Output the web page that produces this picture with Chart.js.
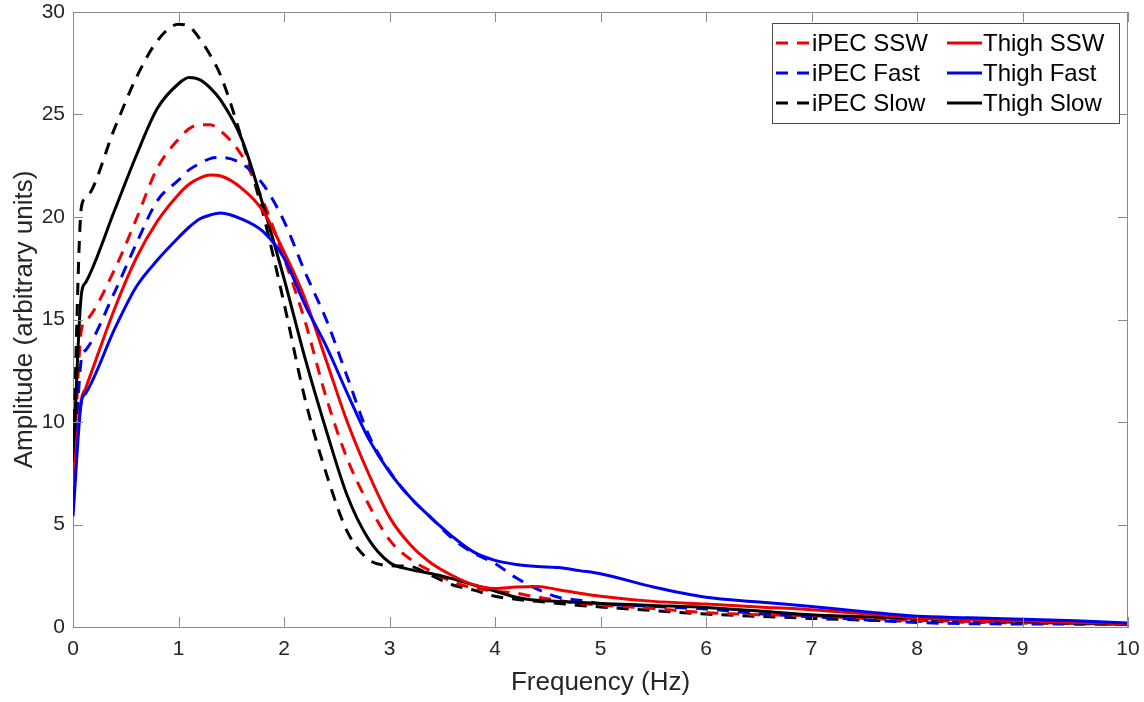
<!DOCTYPE html>
<html>
<head>
<meta charset="utf-8">
<script src="https://cdn.jsdelivr.net/npm/chart.js@4"></script>
<style>
  html, body { margin: 0; padding: 0; background: #fff; }
  #wrap { width: 1144px; height: 702px; }
</style>
</head>
<body>
<div id="wrap"><canvas id="myChart" width="1144" height="702"></canvas></div>
<script>
// frequency samples (Hz)
const freq = [0, 0.08, 0.12, 0.4, 0.6, 0.8, 1.0, 1.1, 1.2, 1.3, 1.4, 1.6, 1.8, 2.0, 2.2, 2.4, 2.6, 2.8, 3.0,
  3.2, 3.4, 3.6, 3.8, 4.0, 4.2, 4.4, 4.6, 4.8, 5.0, 5.5, 6, 6.5, 7, 7.5, 8, 8.5, 9, 9.5, 10];

const ipecSSW  = [7.0, 14.5, 14.9, 17.5, 19.9, 22.4, 23.8, 24.3, 24.5, 24.5, 24.2, 23.0, 20.8, 18.0, 14.9, 11.2, 8.2, 6.0, 4.25,
  3.3, 2.7, 2.2, 1.9, 1.75, 1.65, 1.45, 1.3, 1.15, 1.07, 0.9, 0.7, 0.6, 0.55, 0.42, 0.32, 0.27, 0.22, 0.18, 0.13];
const ipecFast = [6.3, 13.1, 13.5, 16.4, 18.7, 20.8, 21.8, 22.3, 22.6, 22.85, 22.9, 22.6, 21.6, 19.8, 17.3, 15.0, 12.2, 9.4, 7.6,
  6.3, 5.3, 4.3, 3.6, 3.1, 2.4, 1.85, 1.45, 1.3, 1.15, 1.0, 0.88, 0.65, 0.5, 0.35, 0.22, 0.16, 0.15, 0.14, 0.13];
const ipecSlow = [8.0, 20.5, 20.9, 24.4, 26.8, 28.6, 29.4, 29.3, 28.7, 27.9, 26.9, 23.8, 20.2, 15.8, 11.1, 7.5, 4.65, 3.3, 3.0,
  2.95, 2.5, 2.05, 1.8, 1.5, 1.35, 1.25, 1.15, 1.05, 0.98, 0.8, 0.63, 0.52, 0.42, 0.34, 0.28, 0.24, 0.2, 0.17, 0.13];
const thighSSW  = [7.0, 11.1, 11.65, 15.6, 18.0, 19.8, 21.1, 21.6, 21.9, 22.05, 22.0, 21.4, 20.3, 18.3, 16.0, 13.0, 10.0, 7.5, 5.36,
  4.0, 3.1, 2.5, 2.05, 1.88, 1.95, 1.98, 1.82, 1.65, 1.5, 1.25, 1.12, 0.98, 0.84, 0.65, 0.45, 0.36, 0.3, 0.22, 0.16];
const thighFast = [5.4, 11.0, 11.4, 14.6, 16.6, 17.9, 19.0, 19.5, 19.9, 20.1, 20.2, 19.9, 19.3, 18.0, 15.7, 13.7, 11.4, 9.2, 7.55,
  6.3, 5.3, 4.4, 3.65, 3.25, 3.05, 2.95, 2.9, 2.75, 2.6, 1.95, 1.45, 1.22, 1.0, 0.75, 0.52, 0.45, 0.38, 0.3, 0.2];
const thighSlow = [8.0, 16.25, 16.8, 20.4, 23.0, 25.3, 26.5, 26.8, 26.7, 26.3, 25.7, 23.8, 20.6, 17.0, 13.1, 9.6, 6.4, 4.3, 3.15,
  2.8, 2.6, 2.35, 2.05, 1.75, 1.45, 1.3, 1.25, 1.2, 1.15, 1.05, 0.95, 0.78, 0.6, 0.5, 0.42, 0.35, 0.28, 0.2, 0.13];

const xTicks = [0, 1, 2, 3, 4, 5, 6, 7, 8, 9, 10];
const yTicks = [0, 5, 10, 15, 20, 25, 30];

const RED = '#f00000', BLUE = '#0000f0', BLACK = '#000000';
const DASH = [12, 9];
const FONT = "'Liberation Sans', Arial, Helvetica, sans-serif";

const pts = arr => freq.map((f, i) => ({ x: f, y: arr[i] }));
const series = (label, arr, color, dashed) => ({
  label, data: pts(arr), borderColor: color, backgroundColor: color,
  borderWidth: 3, borderDash: dashed ? DASH : [], pointRadius: 0,
  fill: false, cubicInterpolationMode: 'monotone'
});

const datasets = [
  series('Thigh Fast', thighFast, BLUE, false),
  series('Thigh SSW', thighSSW, RED, false),
  series('Thigh Slow', thighSlow, BLACK, false),
  series('iPEC Fast', ipecFast, BLUE, true),
  series('iPEC SSW', ipecSSW, RED, true),
  series('iPEC Slow', ipecSlow, BLACK, true)
];

// box round the axes with inward ticks, matlab style
const frame = {
  id: 'frame',
  afterDatasetsDraw(chart) {
    const { ctx, chartArea: a, scales } = chart;
    ctx.save();
    ctx.strokeStyle = '#8a8a8a';
    ctx.lineWidth = 1;
    ctx.beginPath();
    ctx.moveTo(a.left, a.top + 0.5); ctx.lineTo(a.right, a.top + 0.5);
    ctx.moveTo(a.right - 0.5, a.top); ctx.lineTo(a.right - 0.5, a.bottom);
    const tl = 10;
    scales.x.ticks.forEach(t => {
      const px = Math.round(scales.x.getPixelForValue(t.value)) + 0.5;
      ctx.moveTo(px, a.bottom); ctx.lineTo(px, a.bottom - tl);
      ctx.moveTo(px, a.top); ctx.lineTo(px, a.top + tl);
    });
    scales.y.ticks.forEach(t => {
      const py = Math.round(scales.y.getPixelForValue(t.value)) + 0.5;
      ctx.moveTo(a.left, py); ctx.lineTo(a.left + tl, py);
      ctx.moveTo(a.right, py); ctx.lineTo(a.right - tl, py);
    });
    ctx.stroke();
    ctx.restore();
  }
};

// two-column legend box in the top right
const legendBox = {
  id: 'legendBox',
  afterDraw(chart) {
    const { ctx } = chart;
    const order = ['iPEC SSW', 'Thigh SSW', 'iPEC Fast', 'Thigh Fast', 'iPEC Slow', 'Thigh Slow'];
    const x0 = 772, y0 = 23, w = 347, h = 100;
    ctx.save();
    ctx.fillStyle = '#fff';
    ctx.fillRect(x0, y0, w, h);
    ctx.strokeStyle = '#4a4a4a';
    ctx.lineWidth = 1;
    ctx.strokeRect(x0 + 0.5, y0 + 0.5, w, h);
    ctx.font = '24px ' + FONT;
    ctx.textBaseline = 'middle';
    ctx.fillStyle = '#000';
    order.forEach((name, i) => {
      const ds = chart.data.datasets.find(d => d.label === name);
      const col = i % 2, row = Math.floor(i / 2);
      const lx = col ? 947 : 776;
      const ly = 43 + row * 30;
      ctx.strokeStyle = ds.borderColor;
      ctx.lineWidth = 3;
      ctx.setLineDash(ds.borderDash);
      ctx.beginPath();
      ctx.moveTo(lx, ly); ctx.lineTo(lx + 35, ly);
      ctx.stroke();
      ctx.setLineDash([]);
      ctx.fillText(name, lx + 36, ly + 1);
    });
    ctx.restore();
  }
};

new Chart(document.getElementById('myChart'), {
  type: 'line',
  data: { datasets },
  options: {
    responsive: false,
    animation: false,
    layout: { padding: { left: 0, top: 12, right: 16, bottom: 0 } },
    plugins: { legend: { display: false }, tooltip: { enabled: false } },
    scales: {
      x: {
        type: 'linear', min: 0, max: 10,
        afterBuildTicks: s => { s.ticks = xTicks.map(v => ({ value: v })); },
        afterFit: s => { s.height = 75; s.paddingLeft = 0; s.paddingRight = 0; },
        grid: { drawOnChartArea: false, drawTicks: false },
        border: { color: '#8a8a8a', width: 1 },
        ticks: { color: '#262626', font: { family: FONT, size: 21 }, padding: 10, maxRotation: 0 },
        title: { display: true, text: 'Frequency (Hz)', color: '#262626', font: { family: FONT, size: 26 }, padding: { top: 0 } }
      },
      y: {
        type: 'linear', min: 0, max: 30,
        afterBuildTicks: s => { s.ticks = yTicks.map(v => ({ value: v })); },
        afterFit: s => { s.width = 73; s.paddingTop = 0; s.paddingBottom = 0; },
        grid: { drawOnChartArea: false, drawTicks: false },
        border: { color: '#8a8a8a', width: 1 },
        ticks: { color: '#262626', font: { family: FONT, size: 21 }, padding: 8 },
        title: { display: true, text: 'Amplitude (arbitrary units)', color: '#262626', font: { family: FONT, size: 26 }, padding: { top: 9, bottom: 0 } }
      }
    }
  },
  plugins: [frame, legendBox]
});
</script>
</body>
</html>
